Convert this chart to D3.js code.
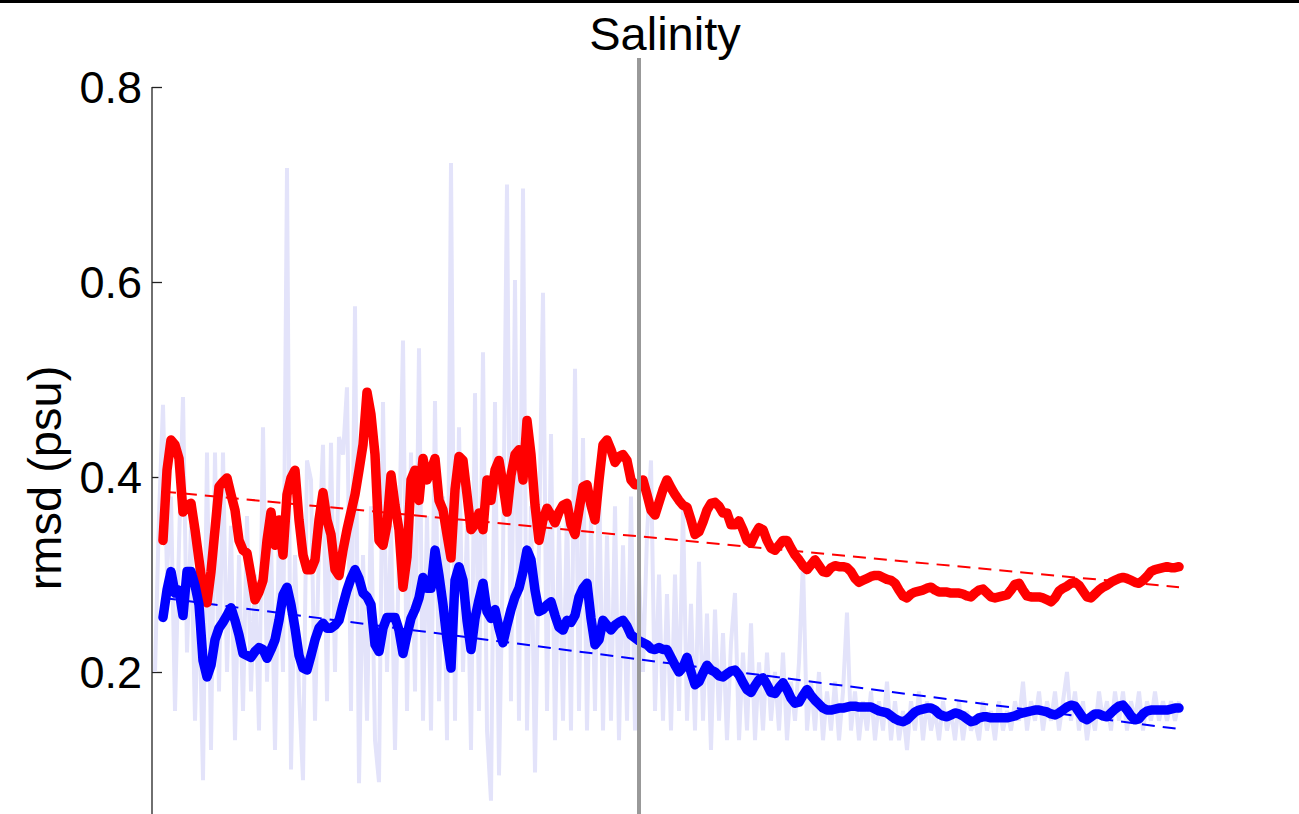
<!DOCTYPE html>
<html>
<head>
<meta charset="utf-8">
<script src="https://cdn.jsdelivr.net/npm/d3@7"></script>
<style>
  html, body { margin: 0; padding: 0; background: #fff; }
  svg { display: block; }
  text { font-family: "Liberation Sans", Arial, Helvetica, sans-serif; fill: #000; }
</style>
</head>
<body>
<svg id="chart" width="1299" height="814"></svg>
<script>
// Salinity rmsd (psu): raw series, two running means and their linear trends.

// Raw rmsd samples, one per cycle (cycle 0..256)
const rawRmsd = [
  0.20,0.36,0.474,0.30,0.38,0.16,0.33,0.482,0.22,0.35,0.15,0.29,0.089,0.425,0.12,0.425,
  0.18,0.425,0.20,0.35,0.13,0.32,0.16,0.36,0.18,0.30,0.14,0.451,0.19,0.34,0.12,0.35,
  0.20,0.717,0.10,0.32,0.18,0.089,0.417,0.397,0.15,0.33,0.433,0.17,0.435,0.20,0.441,0.423,
  0.492,0.16,0.575,0.086,0.32,0.15,0.37,0.13,0.087,0.477,0.20,0.35,0.12,0.33,0.54,0.16,
  0.425,0.18,0.532,0.15,0.36,0.14,0.478,0.17,0.38,0.13,0.722,0.15,0.451,0.20,0.35,0.12,
  0.486,0.16,0.528,0.14,0.068,0.477,0.094,0.32,0.700,0.17,0.602,0.15,0.696,0.14,0.37,0.097,
  0.33,0.589,0.16,0.444,0.13,0.35,0.15,0.37,0.14,0.511,0.16,0.44,0.14,0.36,0.16,0.41,
  0.14,0.34,0.15,0.37,0.13,0.33,0.15,0.38,0.14,0.30,0.20,0.34,0.417,0.16,0.30,0.15,
  0.28,0.14,0.30,0.16,0.37,0.15,0.27,0.14,0.313,0.15,0.26,0.12,0.264,0.15,0.24,0.13,
  0.23,0.281,0.13,0.22,0.14,0.25,0.13,0.21,0.14,0.22,0.15,0.20,0.14,0.22,0.13,0.19,
  0.15,0.21,0.313,0.14,0.19,0.14,0.20,0.13,0.18,0.14,0.19,0.13,0.18,0.261,0.14,0.18,
  0.13,0.17,0.14,0.18,0.13,0.17,0.14,0.19,0.13,0.17,0.13,0.16,0.12,0.17,0.14,0.18,
  0.13,0.17,0.14,0.16,0.13,0.17,0.14,0.16,0.13,0.17,0.13,0.16,0.14,0.15,0.13,0.17,
  0.14,0.16,0.13,0.17,0.14,0.16,0.14,0.17,0.15,0.19,0.14,0.17,0.15,0.18,0.14,0.17,
  0.15,0.18,0.14,0.17,0.20,0.15,0.18,0.14,0.17,0.13,0.16,0.14,0.18,0.15,0.17,0.14,
  0.18,0.15,0.18,0.14,0.17,0.15,0.18,0.14,0.17,0.15,0.18,0.15,0.17,0.15,0.17,0.15,
  0.17
];

// Running means, one value per cycle from cycle 2 to cycle 256
const meanStart = 2;
const meanStep = 1;
const redMean = [
  0.335,0.407,0.438,0.433,0.419,0.364,0.371,0.373,0.346,0.315,0.284,0.271,0.303,0.346,0.390,0.395,
  0.399,0.382,0.366,0.335,0.325,0.322,0.299,0.274,0.282,0.294,0.335,0.364,0.330,0.356,0.320,0.382,
  0.399,0.407,0.356,0.320,0.305,0.305,0.315,0.356,0.384,0.356,0.341,0.305,0.299,0.325,0.346,0.364,
  0.382,0.407,0.433,0.487,0.464,0.423,0.335,0.330,0.351,0.402,0.371,0.346,0.287,0.318,0.397,0.407,
  0.376,0.419,0.397,0.407,0.419,0.376,0.366,0.341,0.317,0.387,0.421,0.417,0.382,0.346,0.351,0.363,
  0.346,0.397,0.376,0.407,0.417,0.392,0.364,0.402,0.423,0.428,0.397,0.458,0.423,0.371,0.335,0.356,
  0.368,0.361,0.353,0.364,0.371,0.373,0.351,0.341,0.366,0.390,0.392,0.371,0.356,0.397,0.433,0.438,
  0.428,0.415,0.421,0.423,0.417,0.397,0.392,0.392,0.397,0.382,0.366,0.361,0.374,0.387,0.397,0.389,
  0.382,0.376,0.371,0.369,0.356,0.341,0.344,0.354,0.366,0.373,0.374,0.370,0.363,0.363,0.351,0.351,
  0.355,0.346,0.335,0.332,0.341,0.348,0.346,0.335,0.327,0.325,0.330,0.335,0.335,0.327,0.320,0.315,
  0.309,0.305,0.310,0.315,0.309,0.303,0.302,0.307,0.309,0.308,0.308,0.307,0.303,0.296,0.292,0.294,
  0.296,0.298,0.299,0.299,0.297,0.295,0.294,0.291,0.284,0.278,0.276,0.280,0.282,0.283,0.284,0.286,
  0.287,0.284,0.282,0.282,0.282,0.281,0.281,0.281,0.280,0.278,0.277,0.281,0.284,0.285,0.281,0.277,
  0.276,0.277,0.278,0.279,0.284,0.290,0.291,0.284,0.278,0.277,0.277,0.277,0.276,0.274,0.272,0.276,
  0.283,0.286,0.288,0.291,0.292,0.289,0.283,0.277,0.276,0.280,0.284,0.287,0.289,0.292,0.294,0.296,
  0.297,0.296,0.294,0.292,0.291,0.294,0.298,0.303,0.305,0.306,0.307,0.308,0.307,0.307,0.308
];
const blueMean = [
  0.256,0.284,0.303,0.281,0.284,0.258,0.303,0.303,0.289,0.269,0.212,0.195,0.207,0.233,0.245,0.251,
  0.258,0.266,0.253,0.238,0.219,0.217,0.215,0.221,0.225,0.223,0.214,0.223,0.233,0.253,0.279,0.287,
  0.269,0.245,0.217,0.204,0.202,0.217,0.233,0.245,0.250,0.245,0.245,0.248,0.253,0.269,0.284,0.296,
  0.305,0.296,0.281,0.277,0.269,0.228,0.221,0.245,0.256,0.256,0.256,0.243,0.219,0.238,0.255,0.264,
  0.276,0.297,0.286,0.286,0.325,0.299,0.269,0.233,0.204,0.294,0.308,0.294,0.253,0.223,0.255,0.274,
  0.291,0.262,0.255,0.264,0.245,0.230,0.248,0.264,0.277,0.286,0.303,0.325,0.315,0.284,0.262,0.264,
  0.269,0.272,0.258,0.246,0.243,0.253,0.251,0.258,0.277,0.286,0.291,0.255,0.228,0.233,0.253,0.248,
  0.243,0.248,0.251,0.253,0.247,0.238,0.235,0.232,0.230,0.228,0.224,0.223,0.225,0.223,0.223,0.215,
  0.207,0.200,0.205,0.215,0.200,0.187,0.190,0.199,0.207,0.202,0.200,0.196,0.195,0.198,0.201,0.202,
  0.197,0.189,0.182,0.179,0.186,0.192,0.194,0.187,0.179,0.178,0.184,0.189,0.182,0.173,0.168,0.169,
  0.176,0.182,0.176,0.171,0.167,0.163,0.161,0.161,0.162,0.163,0.163,0.164,0.165,0.165,0.164,0.164,
  0.164,0.164,0.162,0.160,0.159,0.158,0.155,0.152,0.150,0.149,0.151,0.155,0.159,0.161,0.162,0.163,
  0.163,0.161,0.157,0.155,0.154,0.156,0.158,0.157,0.155,0.152,0.149,0.150,0.153,0.154,0.154,0.153,
  0.153,0.153,0.153,0.153,0.154,0.155,0.157,0.158,0.159,0.160,0.161,0.161,0.160,0.159,0.157,0.156,
  0.158,0.161,0.164,0.166,0.165,0.159,0.153,0.151,0.154,0.157,0.157,0.155,0.154,0.158,0.162,0.165,
  0.166,0.161,0.155,0.151,0.152,0.157,0.160,0.161,0.161,0.161,0.161,0.161,0.162,0.163,0.163
];

// Linear trends (end points at cycles 2 and 256)
const trendCycles = [2, 256];
const redTrend = [0.385, 0.287];
const blueTrend = [0.276, 0.1415];

// Cycle where the regime changes
const breakCycle = 121;

const yTicks = [0.2, 0.4, 0.6, 0.8];
const titleText = "Salinity";
const yLabelText = "rmsd (psu)";

const svg = d3.select("#chart");
const W = 1299, H = 814;

const x = d3.scaleLinear().domain([0, 256]).range([155, 1179]);
const y = d3.scaleLinear().domain([0.2, 0.8]).range([672, 87]);

// frame line along the top edge
svg.append("rect").attr("x", 0).attr("y", 0).attr("width", W).attr("height", 3).attr("fill", "#000");

// y axis with inward ticks
const axisX = 152;
const yAxis = d3.axisRight(y).tickValues(yTicks).tickSize(10).tickFormat("");
const gAxis = svg.append("g").attr("transform", `translate(${axisX},0)`).call(yAxis);
gAxis.select(".domain").remove();
gAxis.selectAll(".tick line").attr("stroke", "#222").attr("stroke-width", 1.3);
svg.append("line")
  .attr("x1", axisX).attr("x2", axisX)
  .attr("y1", y(0.8)).attr("y2", H)
  .attr("stroke", "#222").attr("stroke-width", 1.3);

svg.append("g").selectAll("text").data(yTicks).join("text")
  .attr("x", 142).attr("y", d => y(d)).attr("dy", "0.36em")
  .attr("text-anchor", "end").attr("font-size", 45)
  .text(d => d3.format(".1f")(d));

// raw series
const rawLine = d3.line().x((d, i) => x(i)).y(d => y(d));
svg.append("path").datum(rawRmsd)
  .attr("d", rawLine)
  .attr("fill", "none").attr("stroke", "#e3e3fa").attr("stroke-width", 4)
  .attr("stroke-linejoin", "miter").attr("stroke-miterlimit", 3);

// trend lines
const trendLine = d3.line().x((d, i) => x(trendCycles[i])).y(d => y(d));
svg.append("path").datum(redTrend).attr("d", trendLine)
  .attr("fill", "none").attr("stroke", "#ff0000").attr("stroke-width", 2)
  .attr("stroke-dasharray", "13,8");
svg.append("path").datum(blueTrend).attr("d", trendLine)
  .attr("fill", "none").attr("stroke", "#0000ff").attr("stroke-width", 2)
  .attr("stroke-dasharray", "13,8");

// running means
const meanLine = d3.line().x((d, i) => x(meanStart + i * meanStep)).y(d => y(d));
svg.append("path").datum(redMean).attr("d", meanLine)
  .attr("fill", "none").attr("stroke", "#ff0000").attr("stroke-width", 9.5)
  .attr("stroke-linejoin", "round").attr("stroke-linecap", "round");
svg.append("path").datum(blueMean).attr("d", meanLine)
  .attr("fill", "none").attr("stroke", "#0000ff").attr("stroke-width", 9.5)
  .attr("stroke-linejoin", "round").attr("stroke-linecap", "round");

// regime change marker
svg.append("line")
  .attr("x1", x(breakCycle)).attr("x2", x(breakCycle))
  .attr("y1", 58).attr("y2", H)
  .attr("stroke", "#999999").attr("stroke-width", 4);

// title and axis label
svg.append("text").attr("x", 665).attr("y", 50)
  .attr("text-anchor", "middle").attr("font-size", 47).text(titleText);
svg.append("text")
  .attr("transform", `translate(61,478) rotate(-90)`)
  .attr("text-anchor", "middle").attr("font-size", 47).text(yLabelText);
</script>
</body>
</html>
